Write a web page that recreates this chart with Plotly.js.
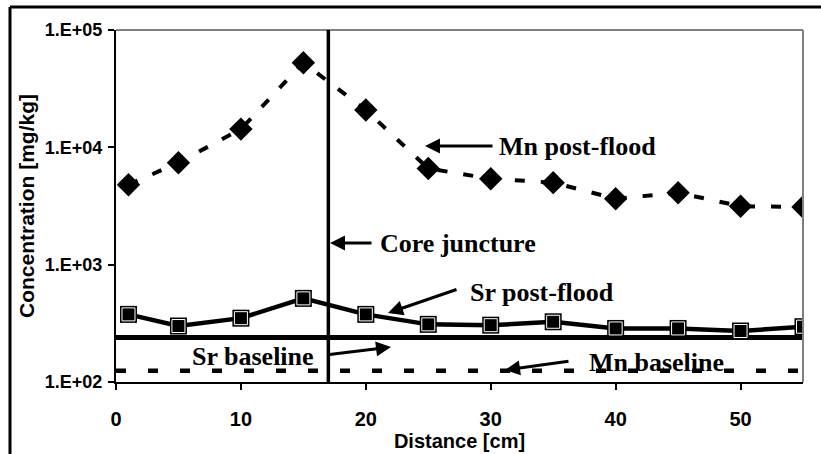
<!DOCTYPE html>
<html>
<head>
<meta charset="utf-8">
<script src="https://cdn.plot.ly/plotly-3.0.1.min.js"></script>
<style>html,body{margin:0;padding:0;background:#fff;}#chart{width:821px;height:454px;}</style>
</head>
<body>
<div id="chart"></div>
<script>
// ---- data ----
const distance = [1, 5, 10, 15, 20, 25, 30, 35, 40, 45, 50, 55];
const mnPostFlood = [4800, 7400, 14300, 52600, 20800, 6600, 5400, 5000, 3650, 4100, 3150, 3100];
const srPostFlood = [377, 300, 350, 516, 377, 310, 305, 326, 286, 286, 272, 296];
const baselineX = [0, 55];
const srBaseline = [240, 240];
const mnBaseline = [125, 125];
const coreJunctureX = 17;
const xTickVals = [0, 10, 20, 30, 40, 50];
const yTickVals = [100, 1000, 10000, 100000];
const yTickText = ['1.E+02', '1.E+03', '1.E+04', '1.E+05'];

// ---- layout helpers (plot area in pixels) ----
const W = 821, H = 454, L = 116, R = 18, T = 30, B = 72;
const pw = W - L - R, ph = H - T - B;
const px = x => (x - L) / pw;
const py = y => (H - B - y) / ph;

const sans = {family: 'Liberation Sans, Arial, sans-serif', color: '#000', weight: 'bold'};
const serif = {family: 'Liberation Serif, Times New Roman, serif', size: 26, color: '#000', weight: 'bold'};

const traces = [
  {x: baselineX, y: mnBaseline, mode: 'lines', line: {color: '#000', width: 4.5, dash: '10px,22px'}, name: 'Mn baseline'},
  {x: baselineX, y: srBaseline, mode: 'lines', line: {color: '#000', width: 5}, name: 'Sr baseline'},
  {x: distance, y: mnPostFlood, mode: 'lines+markers', line: {color: '#000', width: 4, dash: '10px,16px'},
   marker: {symbol: 'diamond', size: 18, color: '#000'}, name: 'Mn post-flood'},
  {x: distance, y: srPostFlood, mode: 'lines+markers', line: {color: '#000', width: 4.5},
   marker: {symbol: 'square', size: 17, color: '#000'}, name: 'Sr post-flood'},
  {x: distance, y: srPostFlood, mode: 'markers',
   marker: {symbol: 'square', size: 13, color: '#000', line: {color: '#fff', width: 1}}, name: 'Sr post-flood', showlegend: false}
];

function arrow(hx, hy, tx, ty) {
  return {xref: 'paper', yref: 'paper', x: px(hx), y: py(hy), ax: tx - hx, ay: ty - hy,
    text: '', showarrow: true, arrowhead: 2, arrowsize: 1, arrowwidth: 3, arrowcolor: '#000'};
}
function label(text, x, y, anchor) {
  return {xref: 'paper', yref: 'paper', x: px(x), y: py(y), text: text, showarrow: false,
    xanchor: anchor, yanchor: 'middle', font: serif};
}

const layout = {
  width: W, height: H,
  margin: {l: L, r: R, t: T, b: B},
  paper_bgcolor: '#fff', plot_bgcolor: '#fff',
  showlegend: false,
  xaxis: {
    range: [0, 55], tickvals: xTickVals, ticks: 'outside', ticklen: 6, tickwidth: 2, tickcolor: '#000',
    showline: true, linecolor: '#000', linewidth: 2, showgrid: false, zeroline: false,
    tickfont: Object.assign({size: 20}, sans), ticklabelstandoff: 12,
    title: {text: 'Distance [cm]', font: Object.assign({size: 20}, sans), standoff: 0}
  },
  yaxis: {
    type: 'log', range: [2, 5], tickvals: yTickVals, ticktext: yTickText,
    ticks: 'outside', ticklen: 6, tickwidth: 2, tickcolor: '#000',
    showline: true, linecolor: '#000', linewidth: 2, showgrid: false, zeroline: false,
    tickfont: Object.assign({size: 18}, sans), ticklabelstandoff: 2,
    title: {text: 'Concentration [mg/kg]', font: Object.assign({size: 21}, sans), standoff: 4}
  },
  shapes: [
    {type: 'line', xref: 'paper', yref: 'paper', x0: 0, x1: 1, y0: 1, y1: 1, line: {color: '#808080', width: 2}},
    {type: 'line', xref: 'paper', yref: 'paper', x0: 1, x1: 1, y0: 0, y1: 1, line: {color: '#808080', width: 2}},
    {type: 'line', xref: 'x', yref: 'paper', x0: coreJunctureX, x1: coreJunctureX, y0: 0, y1: 1, line: {color: '#000', width: 3.5}},
    {type: 'line', xref: 'paper', yref: 'paper', x0: px(10), x1: px(830), y0: py(7), y1: py(7), line: {color: '#000', width: 3}},
    {type: 'line', xref: 'paper', yref: 'paper', x0: px(10), x1: px(10), y0: py(7), y1: py(470), line: {color: '#000', width: 3}}
  ],
  annotations: [
    arrow(425, 146, 494, 146), label('Mn post-flood', 497, 146, 'left'),
    arrow(330, 243, 373, 243), label('Core juncture', 378, 243, 'left'),
    arrow(388, 313, 458, 289), label('Sr post-flood', 468, 292, 'left'),
    arrow(391, 347, 326, 355), label('Sr baseline', 316, 356, 'right'),
    arrow(505, 370, 570, 361), label('Mn baseline', 587, 362, 'left')
  ]
};

Plotly.newPlot('chart', traces, layout, {staticPlot: true, displayModeBar: false});
</script>
</body>
</html>
